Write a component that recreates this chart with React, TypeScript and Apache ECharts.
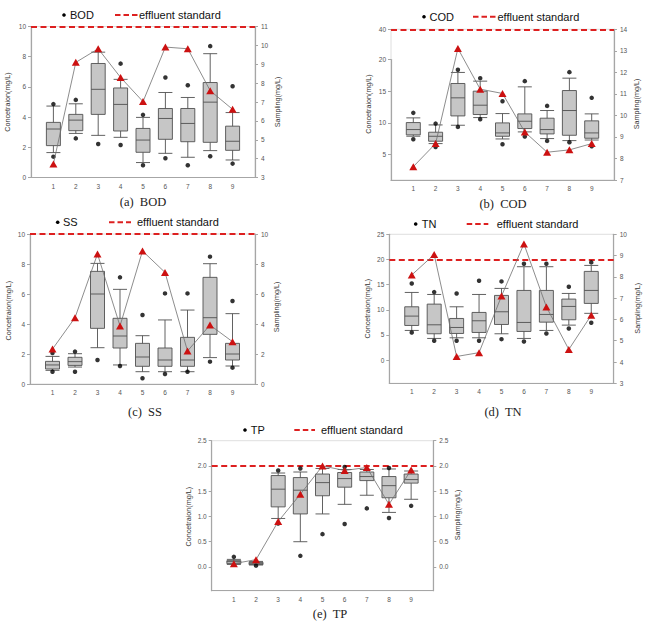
import React, { useEffect, useRef } from 'react';
import * as echarts from 'echarts';

// ---------- data ----------
const SITES = ['1', '2', '3', '4', '5', '6', '7', '8', '9'];
const X_CATEGORIES = ['', ...SITES, ''];

// box rows: [lower whisker, Q1, median, Q3, upper whisker]
const BOD_BOX = [
  [1.65, 2.11, 3.21, 3.65, 4.73],
  [2.92, 3.1, 3.8, 4.18, 4.88],
  [2.79, 4.18, 5.84, 7.55, 8.3],
  [2.66, 3.08, 4.84, 5.93, 6.5],
  [0.99, 1.67, 2.48, 3.25, 3.98],
  [1.6, 2.53, 3.91, 4.57, 5.63],
  [1.34, 2.37, 3.58, 4.57, 5.3],
  [1.78, 2.33, 4.99, 6.29, 8.2],
  [1.16, 1.8, 2.4, 3.4, 4.3],
];
const BOD_OUT_HIGH = [4.86, 5.14, null, 7.54, 4.15, 6.62, 6.11, 8.7, 6.04];
const BOD_OUT_LOW = [1.38, 2.59, 2.22, 2.15, 0.81, 1.27, 0.81, 1.41, 0.92];
const BOD_SAMPLING = [3.72, 9.1, 9.82, 8.3, 7.02, 9.91, 9.82, 7.6, 6.61];
const BOD_STANDARD = 10;

const COD_BOX = [
  [7.9, 8.11, 8.95, 10.05, 10.79],
  [6.74, 7.11, 7.89, 8.53, 9.68],
  [9.63, 11.1, 13.95, 16.21, 17.95],
  [10.84, 11.32, 12.79, 15.0, 16.58],
  [7.47, 7.89, 8.42, 10.0, 11.47],
  [8.58, 9.11, 10.26, 11.42, 15.68],
  [7.53, 8.26, 8.95, 10.74, 11.95],
  [7.21, 8.05, 11.95, 15.1, 17.05],
  [7.3, 7.58, 8.42, 10.32, 11.42],
];
const COD_OUT_HIGH = [11.58, 9.89, 18.37, 17.05, 13.42, 16.58, 12.68, 18.0, 13.95];
const COD_OUT_LOW = [7.42, 6.21, 9.37, 10.58, 6.63, 7.84, 7.16, 6.95, 6.32];
const COD_SAMPLING = [7.62, 8.69, 13.11, 11.22, 11.02, 9.23, 8.29, 8.4, 8.69];
const COD_STANDARD = 40;

const SS_BOX = [
  [0.91, 1.0, 1.27, 1.51, 1.84],
  [1.13, 1.24, 1.49, 1.78, 2.02],
  [2.42, 3.71, 6.0, 7.51, 8.04],
  [1.27, 2.4, 3.2, 4.38, 6.31],
  [0.82, 1.18, 1.8, 2.71, 3.22],
  [0.82, 1.18, 1.6, 2.4, 4.27],
  [0.82, 1.18, 1.6, 3.11, 4.93],
  [1.76, 3.31, 4.42, 7.11, 8.02],
  [1.2, 1.6, 2.0, 2.71, 4.69],
];
const SS_OUT_HIGH = [2.07, 2.16, null, 7.11, 4.6, 6.04, 6.04, 8.49, 5.53];
const SS_OUT_LOW = [0.82, 0.82, 1.6, 1.2, 0.38, 0.67, 0.82, 1.49, 1.09];
const SS_SAMPLING = [2.33, 4.42, 8.67, 3.87, 8.87, 7.44, 2.2, 3.93, 2.82];
const SS_STANDARD = 10;

const TN_BOX = [
  [5.9, 6.89, 8.75, 10.6, 13.45],
  [4.31, 5.24, 7.02, 11.13, 13.05],
  [4.44, 5.3, 6.49, 8.28, 10.6],
  [4.44, 5.5, 7.82, 9.48, 13.05],
  [5.24, 7.09, 9.61, 12.86, 14.25],
  [4.31, 5.7, 7.49, 13.85, 18.56],
  [5.9, 7.55, 9.08, 13.85, 18.56],
  [6.96, 8.02, 10.67, 12.13, 13.25],
  [9.3, 11.27, 13.85, 17.63, 18.82],
];
const TN_OUT_HIGH = [15.24, 13.52, 13.25, 15.77, 15.64, 19.15, 19.15, 14.58, 19.42];
const TN_OUT_LOW = [5.5, 3.84, 3.84, 3.84, 4.17, 3.71, 5.3, 6.3, 7.42];
const TN_SAMPLING = [8.09, 9.05, 4.26, 4.44, 7.1, 9.55, 6.59, 4.59, 6.2];
const TN_STANDARD = 20;

const TP_BOX = [
  [0.05, 0.066, 0.105, 0.125, 0.15],
  [0.04, 0.046, 0.072, 0.092, 0.11],
  [0.96, 1.19, 1.54, 1.81, 1.86],
  [0.5, 1.05, 1.52, 1.77, 1.88],
  [1.05, 1.41, 1.67, 1.84, 1.95],
  [1.24, 1.58, 1.75, 1.87, 1.93],
  [1.42, 1.71, 1.79, 1.88, 1.93],
  [1.08, 1.37, 1.61, 1.79, 1.94],
  [1.34, 1.66, 1.73, 1.84, 1.9],
];
const TP_OUT_HIGH = [0.2, null, 1.91, 1.95, null, 1.98, null, 1.96, null];
const TP_OUT_LOW = [null, 0.026, 0.86, 0.22, 0.65, 0.85, 1.16, 0.97, 1.21];
const TP_SAMPLING = [0.066, 0.145, 0.9, 1.44, 2.0, 1.91, 1.97, 1.24, 1.92];
const TP_STANDARD = 2.0;

// tick labels
const COD_LEFT_TICKS = [5, 10, 15, 20, 40];
const TN_LEFT_TICKS = [0, 5, 10, 15, 20, 25];
const TP_TICKS = [0, 0.5, 1.0, 1.5, 2.0, 2.5];

const LEFT_NAME = 'Concetraion(mg/L)';
const RIGHT_NAME = 'Sampling(mg/L)';
const STD_NAME = 'effluent standard';

// ---------- layout ----------
const PANELS: any[] = [
  {
    name: 'BOD', caption: '(a)  BOD', box: BOD_BOX, high: BOD_OUT_HIGH, low: BOD_OUT_LOW, sampling: BOD_SAMPLING, standard: BOD_STANDARD,
    grid: [31, 26.5, 224, 151],
    left: { min: 0, max: 10, interval: 2, dec: 0 },
    right: { min: 3, max: 11, interval: 1, dec: 0 },
    legend: { dot: 64, y: 15, text: 70, d1: 115, d2: 138, std: 139 },
    cap: [143, 202], names: [7.5, 102, 277.3, 102],
  },
  {
    name: 'COD', caption: '(b)  COD', box: COD_BOX, high: COD_OUT_HIGH, low: COD_OUT_LOW, sampling: COD_SAMPLING, standard: COD_STANDARD,
    grid: [391, 29.3, 223, 150.7],
    left: { min: 1, max: 40, ticks: COD_LEFT_TICKS, dec: 0, breaks: [{ start: 20, end: 40, gap: '20%' }] },
    right: { min: 7, max: 14, interval: 1, dec: 0 },
    legend: { dot: 424, y: 16.7, text: 429.5, d1: 473, d2: 496, std: 497.5 },
    cap: [503, 204], names: [368.3, 104, 636.7, 104],
  },
  {
    name: 'SS', caption: '(c)  SS', box: SS_BOX, high: SS_OUT_HIGH, low: SS_OUT_LOW, sampling: SS_SAMPLING, standard: SS_STANDARD,
    grid: [30, 234, 225, 150],
    left: { min: 0, max: 10, interval: 2, dec: 0 },
    right: { min: 0, max: 10, interval: 2, dec: 0 },
    legend: { dot: 57.7, y: 222.3, text: 63, d1: 109, d2: 131, std: 137 },
    cap: [145, 412], names: [8.3, 310.7, 276.7, 307],
  },
  {
    name: 'TN', caption: '(d)  TN', box: TN_BOX, high: TN_OUT_HIGH, low: TN_OUT_LOW, sampling: TN_SAMPLING, standard: TN_STANDARD,
    grid: [389.3, 234.3, 224.4, 149],
    left: { min: -4.6, max: 25, ticks: TN_LEFT_TICKS, dec: 0 },
    right: { min: 3, max: 10, interval: 1, dec: 0 },
    legend: { dot: 415.7, y: 224, text: 421.7, d1: 466.7, d2: 488.3, std: 496.7 },
    cap: [503, 412.3], names: [367.3, 308.7, 637.3, 308.3],
  },
  {
    name: 'TP', caption: '(e)  TP', box: TP_BOX, high: TP_OUT_HIGH, low: TP_OUT_LOW, sampling: TP_SAMPLING, standard: TP_STANDARD,
    grid: [211.7, 440.7, 221.6, 150],
    left: { min: -0.47, max: 2.5, ticks: TP_TICKS, dec: 1 },
    right: { min: -0.47, max: 2.5, ticks: TP_TICKS, dec: 1 },
    legend: { dot: 245, y: 430, text: 250.7, d1: 294.3, d2: 315, std: 321 },
    cap: [330, 614], names: [188.3, 516.7, 457.3, 515],
  },
];

const AXIS_COLOR = '#a6a6a6';
const LABEL_COLOR = '#555';
const SANS = 'Liberation Sans, Arial, sans-serif';
const SERIF = 'Liberation Serif, Times New Roman, serif';

function makeY(ax: any, gi: number, position: 'left' | 'right') {
  const y: any = {
    gridIndex: gi,
    type: 'value',
    position,
    min: ax.min,
    max: ax.max,
    axisLine: { show: true, onZero: false, lineStyle: { color: AXIS_COLOR, width: 1.2 } },
    axisTick: { show: true, inside: false, length: 3, lineStyle: { color: AXIS_COLOR, width: 1 } },
    axisLabel: {
      fontSize: 6.5,
      color: LABEL_COLOR,
      fontFamily: SANS,
      margin: position === 'left' ? 5 : 6,
      formatter: (v: number) => Number(v).toFixed(ax.dec),
      showMinLabel: true,
      showMaxLabel: true,
    },
    splitLine: { show: false },
  };
  if (ax.interval) y.interval = ax.interval;
  if (ax.ticks) {
    y.axisLabel.customValues = ax.ticks;
    y.axisTick.customValues = ax.ticks;
  }
  if (ax.breaks) {
    y.breaks = ax.breaks;
    y.breakArea = { show: false };
  }
  return y;
}

function buildOption() {
  const grid: any[] = [];
  const xAxis: any[] = [];
  const yAxis: any[] = [];
  const series: any[] = [];
  const graphic: any[] = [];

  PANELS.forEach((p, i) => {
    grid.push({
      left: p.grid[0], top: p.grid[1], width: p.grid[2], height: p.grid[3],
      show: true, backgroundColor: 'transparent', borderColor: '#d6d6d6', borderWidth: 0.8,
    });
    xAxis.push({
      gridIndex: i,
      type: 'category',
      data: X_CATEGORIES,
      boundaryGap: false,
      axisLine: { show: true, onZero: false, lineStyle: { color: AXIS_COLOR, width: 1.2 } },
      axisTick: { show: false },
      axisLabel: { fontSize: 6.5, color: LABEL_COLOR, fontFamily: SANS, margin: 5, interval: 0 },
      splitLine: { show: false },
    });
    yAxis.push(makeY(p.left, i, 'left'));
    yAxis.push(makeY(p.right, i, 'right'));

    series.push({
      type: 'boxplot',
      name: p.name + ' box',
      xAxisIndex: i,
      yAxisIndex: 2 * i,
      encode: { x: 0, y: [1, 2, 3, 4, 5] },
      data: p.box.map((b: number[], k: number) => [k + 1, ...b]),
      boxWidth: [14, 14],
      itemStyle: { color: '#c6c6c6', borderColor: '#505050', borderWidth: 0.9 },
      emphasis: { disabled: true },
      z: 2,
      markLine: {
        silent: true,
        symbol: ['none', 'none'],
        label: { show: false },
        lineStyle: { color: '#dd2020', type: [6, 3.5], width: 2 },
        data: [{ yAxis: p.standard }],
        z: 3,
      },
    });
    const pts: any[] = [];
    SITES.forEach((_, k) => {
      if (p.high[k] != null) pts.push([k + 1, p.high[k]]);
      if (p.low[k] != null) pts.push([k + 1, p.low[k]]);
    });
    series.push({
      type: 'scatter',
      name: p.name,
      xAxisIndex: i,
      yAxisIndex: 2 * i,
      data: pts,
      symbol: 'circle',
      symbolSize: 4.5,
      itemStyle: { color: '#000' },
      z: 4,
    });
    series.push({
      type: 'line',
      name: p.name + ' sampling',
      xAxisIndex: i,
      yAxisIndex: 2 * i + 1,
      data: p.sampling.map((v: number, k: number) => [k + 1, v]),
      symbol: 'triangle',
      symbolSize: [8, 7],
      itemStyle: { color: '#cc1111' },
      lineStyle: { color: '#707070', width: 0.8 },
      z: 5,
    });

    const L = p.legend;
    graphic.push(
      { type: 'circle', shape: { cx: L.dot, cy: L.y, r: 1.8 }, style: { fill: '#000' } },
      { type: 'text', x: L.text, y: L.y, style: { text: p.name, fontSize: 11, fontFamily: SANS, fill: '#111', textVerticalAlign: 'middle', textAlign: 'left' } },
      { type: 'line', shape: { x1: L.d1, y1: L.y, x2: L.d2, y2: L.y }, style: { stroke: '#dd2020', lineWidth: 2, lineDash: [5.5, 3] } },
      { type: 'text', x: L.std, y: L.y, style: { text: STD_NAME, fontSize: 11, fontFamily: SANS, fill: '#111', textVerticalAlign: 'middle', textAlign: 'left' } },
      { type: 'text', x: p.cap[0], y: p.cap[1], style: { text: p.caption, fontSize: 12.5, fontFamily: SERIF, fill: '#222', textAlign: 'center', textVerticalAlign: 'middle' } },
      { type: 'text', x: p.names[0], y: p.names[1], rotation: Math.PI / 2, style: { text: LEFT_NAME, fontSize: 7.2, fontFamily: SANS, fill: '#333', textAlign: 'center', textVerticalAlign: 'middle' } },
      { type: 'text', x: p.names[2], y: p.names[3], rotation: Math.PI / 2, style: { text: RIGHT_NAME, fontSize: 7.2, fontFamily: SANS, fill: '#333', textAlign: 'center', textVerticalAlign: 'middle' } },
    );
  });

  return { animation: false, backgroundColor: '#fff', grid, xAxis, yAxis, series, graphic };
}

export default function App() {
  const ref = useRef<HTMLDivElement>(null);
  useEffect(() => {
    if (!ref.current) return;
    const chart = echarts.init(ref.current, null, { renderer: 'svg' });
    chart.setOption(buildOption() as any);
    return () => chart.dispose();
  }, []);
  return (
    <div
      ref={ref}
      style={{ position: 'fixed', left: 0, top: 0, width: 645, height: 622, background: '#fff' }}
    />
  );
}
